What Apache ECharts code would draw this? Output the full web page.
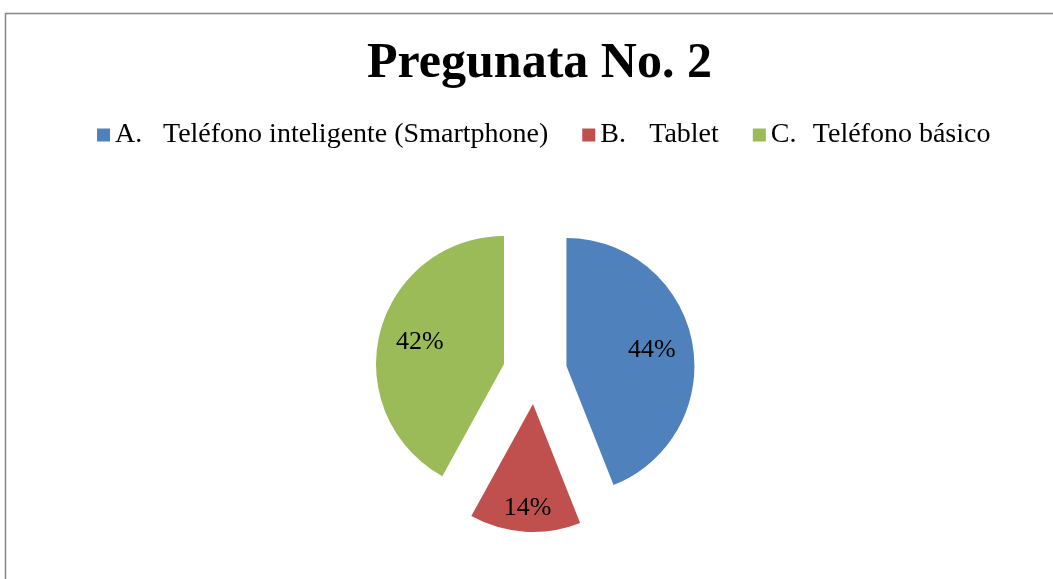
<!DOCTYPE html>
<html>
<head>
<meta charset="utf-8">
<script src="https://cdn.jsdelivr.net/npm/echarts@6/dist/echarts.min.js"></script>
<style>
  html, body { margin: 0; padding: 0; background: #fff; }
  #chart { width: 1053px; height: 579px; }
</style>
</head>
<body>
<div id="chart"></div>
<script>
// datos de la pregunta 2
const letters = ['A.', 'B.', 'C.'];
const categories = ['Teléfono inteligente (Smartphone)', 'Tablet', 'Teléfono básico'];
const values = [44, 14, 42];
const colors = ['#4F81BD', '#C0504D', '#9BBB59'];

const myChart = echarts.init(document.getElementById('chart'));

const names = categories.map((c, i) => letters[i] + ' ' + c);
const pieData = names.map((n, i) => ({
  name: n,
  value: values[i],
  selected: true,
  itemStyle: { color: colors[i] }
}));

const serif = '"Liberation Serif", "DejaVu Serif", serif';

myChart.setOption({
  animation: false,
  title: {
    text: 'Pregunata No. 2',
    left: 362,
    top: 34,
    textStyle: { fontFamily: serif, fontSize: 50, fontWeight: 'bold', color: '#000' }
  },
  legend: {
    top: 116,
    left: 92,
    icon: 'rect',
    itemWidth: 13,
    itemHeight: 13,
    itemGap: 34,
    data: names,
    formatter: function (name) {
      const i = names.indexOf(name);
      return '{k' + i + '|' + letters[i] + '}{t|' + categories[i] + '}';
    },
    textStyle: {
      fontFamily: serif,
      fontSize: 28,
      color: '#000',
      rich: {
        k0: { width: 48, fontFamily: serif, fontSize: 28 },
        k1: { width: 49, fontFamily: serif, fontSize: 28 },
        k2: { width: 42, fontFamily: serif, fontSize: 28 },
        t: { fontFamily: serif, fontSize: 28 }
      }
    }
  },
  graphic: [{
    type: 'rect',
    left: 3,
    top: 11,
    shape: { width: 1080, height: 620 },
    style: { fill: 'none', stroke: '#868686', lineWidth: 1.5 },
    silent: true,
    z: -1
  }],
  series: [
    {
      name: 'Pregunta 2',
      type: 'pie',
      center: [535, 372],
      radius: 128,
      startAngle: 90,
      selectedMode: 'multiple',
      selectedOffset: 32,
      data: pieData,
      label: { show: false },
      labelLine: { show: false },
      emphasis: { disabled: true }
    },
    {
      // capa transparente solo para las etiquetas
      name: 'etiquetas',
      type: 'pie',
      center: [535, 372],
      radius: 168,
      startAngle: 90,
      selectedMode: 'multiple',
      selectedOffset: 32,
      silent: true,
      legendHoverLink: false,
      data: names.map((n, i) => ({
        name: n,
        value: values[i],
        selected: true,
        label: i === 1 ? { formatter: '\n{d}%', lineHeight: 34 } : {}
      })),
      itemStyle: { color: 'rgba(0,0,0,0)' },
      label: {
        show: true,
        position: 'inside',
        formatter: '{d}%',
        fontFamily: serif,
        fontSize: 26,
        color: '#000'
      },
      labelLine: { show: false },
      emphasis: { disabled: true }
    }
  ]
});
</script>
</body>
</html>
